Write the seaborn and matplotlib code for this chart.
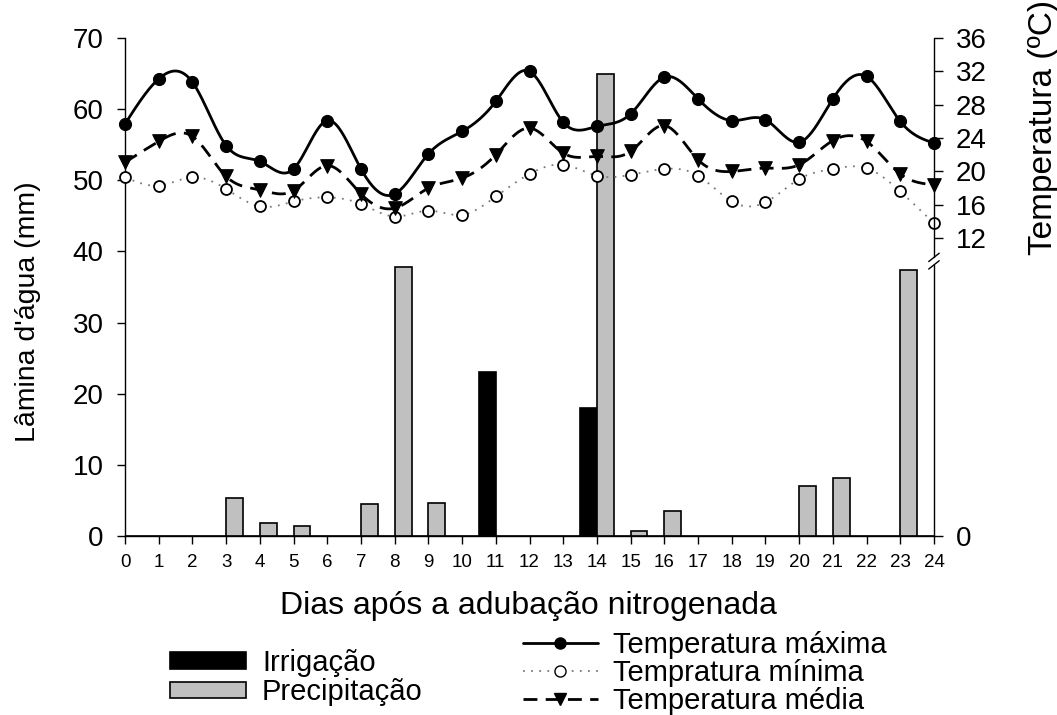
import numpy as np
import pandas as pd
import matplotlib
matplotlib.use("Agg")
import matplotlib.pyplot as plt
import matplotlib.transforms as mtrans
from matplotlib.patches import Patch
from matplotlib.lines import Line2D
import seaborn as sns

# ---------------- data ----------------
dias = list(range(25))
irrigacao = [0, 0, 0, 0, 0, 0, 0, 0, 0, 0, 0, 23.0, 0, 0, 18.0,
             0, 0, 0, 0, 0, 0, 0, 0, 0, 0]
precipitacao = [0, 0, 0, 5.4, 1.9, 1.4, 0, 4.5, 37.8, 4.6, 0, 0, 0, 0, 65.0,
                0.7, 3.5, 0, 0, 0, 7.1, 8.1, 0, 37.4, 0]
temp_max = [25.7, 31.1, 30.7, 23.1, 21.2, 20.3, 26.1, 20.3, 17.3, 22.1, 24.8, 28.4, 32.0,
            25.9, 25.4, 26.9, 31.3, 28.7, 26.1, 26.2, 23.5, 28.7, 31.4, 26.0, 23.4]
temp_media = [21.1, 23.6, 24.2, 19.4, 17.8, 17.7, 20.7, 17.3, 15.6, 18.0, 19.2, 22.0, 25.2,
              22.2, 21.8, 22.4, 25.5, 21.4, 20.0, 20.4, 20.8, 23.7, 23.6, 19.7, 18.4]
temp_min = [19.3, 18.3, 19.3, 17.9, 15.8, 16.4, 16.9, 16.1, 14.6, 15.3, 14.8, 17.0, 19.7,
            20.8, 19.5, 19.6, 20.3, 19.5, 16.4, 16.3, 19.1, 20.3, 20.4, 17.6, 13.8]

x_ticks = list(range(25))
y_ticks = [0, 10, 20, 30, 40, 50, 60, 70]
t_ticks = [12, 16, 20, 24, 28, 32, 36]

lab_irr = "Irrigação"
lab_pre = "Precipitação"
lab_max = "Temperatura máxima"
lab_min = "Tempratura mínima"
lab_med = "Temperatura média"

# ---------------- style ----------------
sns.set_style("ticks")
plt.rcParams["font.family"] = ["Liberation Sans", "DejaVu Sans"]
plt.rcParams["text.color"] = "black"
plt.rcParams["axes.labelcolor"] = "black"
plt.rcParams["xtick.color"] = "black"
plt.rcParams["ytick.color"] = "black"
plt.rcParams["axes.edgecolor"] = "black"


def natural_spline(x, y, per=24):
    """Natural cubic spline through the points (used only to draw the smooth line)."""
    x = np.asarray(x, float)
    y = np.asarray(y, float)
    n = len(x)
    h = np.diff(x)
    A = np.zeros((n, n))
    r = np.zeros(n)
    A[0, 0] = 1
    A[-1, -1] = 1
    for i in range(1, n - 1):
        A[i, i - 1] = h[i - 1]
        A[i, i] = 2 * (h[i - 1] + h[i])
        A[i, i + 1] = h[i]
        r[i] = 6 * ((y[i + 1] - y[i]) / h[i] - (y[i] - y[i - 1]) / h[i - 1])
    M = np.linalg.solve(A, r)
    xs, ys = [], []
    for i in range(n - 1):
        t = np.linspace(x[i], x[i + 1], per, endpoint=(i == n - 2))
        a = x[i + 1] - t
        b = t - x[i]
        s = (M[i] * a ** 3 + M[i + 1] * b ** 3) / (6 * h[i]) \
            + (y[i] / h[i] - M[i] * h[i] / 6) * a + (y[i + 1] / h[i] - M[i + 1] * h[i] / 6) * b
        xs.append(t)
        ys.append(s)
    return np.concatenate(xs), np.concatenate(ys)


fig = plt.figure(figsize=(10.57, 7.15), dpi=100)
ax = fig.add_axes([0.1183, 0.2503, 0.8836 - 0.1183, 0.9469 - 0.2503])

# ---------------- bars ----------------
df = pd.DataFrame({
    "dia": dias * 2,
    "valor": irrigacao + precipitacao,
    "tipo": [lab_irr] * len(dias) + [lab_pre] * len(dias),
})
sns.barplot(data=df, x="dia", y="valor", hue="tipo", native_scale=True, dodge=True,
            width=1.0, palette={lab_irr: "black", lab_pre: "#c0c0c0"}, saturation=1,
            edgecolor="black", linewidth=1.2, errorbar=None, legend=False, ax=ax)

ax.set_xlim(0, 24)
ax.set_ylim(0, 70)
ax.set_xticks(x_ticks)
ax.set_xticklabels([str(v) for v in x_ticks], fontsize=13.5)
ax.set_yticks(y_ticks)
ax.set_yticklabels([str(v) for v in y_ticks], fontsize=20)
ax.tick_params(axis="x", direction="out", length=6, width=1.0, pad=7)
ax.tick_params(axis="y", direction="out", length=5.5, width=1.0, pad=10)
for s in ["top", "right"]:
    ax.spines[s].set_visible(False)
for s in ["left", "bottom"]:
    ax.spines[s].set_linewidth(1.0)

ax.set_xlabel("Dias após a adubação nitrogenada", fontsize=23)
ax.xaxis.set_label_coords(0.499, -0.14)
ax.xaxis.label.set_va("center")
ax.set_ylabel("Lâmina d'água (mm)", fontsize=20.5)
ax.yaxis.label.set_va("center")
ax.yaxis.set_label_coords(-0.12, 0.45)

# ---------------- temperatures (right axis) ----------------
ax2 = ax.twinx()
t_bottom = -23.7
ax2.set_ylim(t_bottom, 36)
ax2.set_xlim(0, 24)

for yv, style, col, lw in [
    (temp_min, (0, (1, 3.5)), "#7a7a7a", 1.3),
    (temp_media, (0, (5, 3)), "black", 2.0),
    (temp_max, "-", "black", 2.0),
]:
    xs, ys = natural_spline(dias, yv)
    ax2.plot(xs, ys, linestyle=style, color=col, lw=lw, zorder=3, clip_on=False)

sns.scatterplot(x=dias, y=temp_min, marker="o", s=62, color="white", edgecolor="black",
                linewidth=1.3, zorder=4, ax=ax2, clip_on=False, legend=False)
sns.scatterplot(x=dias, y=temp_media, marker="v", s=95, color="black", edgecolor="black",
                linewidth=0.8, zorder=4, ax=ax2, clip_on=False, legend=False)
sns.scatterplot(x=dias, y=temp_max, marker="o", s=75, color="black", edgecolor="black",
                linewidth=0.8, zorder=4, ax=ax2, clip_on=False, legend=False)

ax2.set_yticks([t_bottom] + t_ticks)
ax2.set_yticklabels(["0"] + [str(v) for v in t_ticks], fontsize=20)
ax2.tick_params(axis="y", direction="out", length=6.5, width=1.0, pad=9)
ax2.set_ylim(t_bottom, 36)
for s in ["top", "right", "left", "bottom"]:
    ax2.spines[s].set_visible(False)

# broken right spine
bt = mtrans.blended_transform_factory(ax2.transAxes, ax2.transData)
brk_hi, brk_lo = 9.7, 8.8
ax2.plot([1, 1], [brk_hi, 36], transform=bt, color="black", lw=1.0, clip_on=False, zorder=5)
ax2.plot([1, 1], [t_bottom, brk_lo], transform=bt, color="black", lw=1.0, clip_on=False, zorder=5)
dx, dy = 0.0065, 0.5
for yc in (brk_hi, brk_lo):
    ax2.plot([1 - dx, 1 + dx], [yc - dy, yc + dy], transform=bt, color="black", lw=1.0,
             clip_on=False, zorder=5)

ax2.set_ylabel("Temperatura (ºC)", fontsize=24)
ax2.yaxis.label.set_va("center")
ax2.yaxis.set_label_coords(1.135, 0.82)

# ---------------- legends ----------------
h_bar = [Patch(facecolor="black", edgecolor="black", linewidth=1.2, label=lab_irr),
         Patch(facecolor="#c0c0c0", edgecolor="black", linewidth=1.2, label=lab_pre)]
fig.legend(handles=h_bar, loc="center left", bbox_to_anchor=(0.161, 0.0525),
           frameon=False, fontsize=21, handlelength=2.6, handleheight=0.48,
           handletextpad=0.55, labelspacing=0.04, borderpad=0, borderaxespad=0)

h_lin = [Line2D([], [], color="black", lw=2.0, marker="o", ms=8, mfc="black", label=lab_max),
         Line2D([], [], color="#7a7a7a", lw=1.3, linestyle=(0, (1, 3.5)), marker="o", ms=8,
                mfc="white", mec="black", label=lab_min),
         Line2D([], [], color="black", lw=2.0, linestyle=(0, (5, 3)), marker="v", ms=9,
                mfc="black", label=lab_med)]
fig.legend(handles=h_lin, loc="center left", bbox_to_anchor=(0.495, 0.0590),
           frameon=False, fontsize=21, handlelength=2.55, numpoints=1,
           handletextpad=0.52, labelspacing=0.0, borderpad=0, borderaxespad=0)

fig.savefig("out.png", dpi=100)
